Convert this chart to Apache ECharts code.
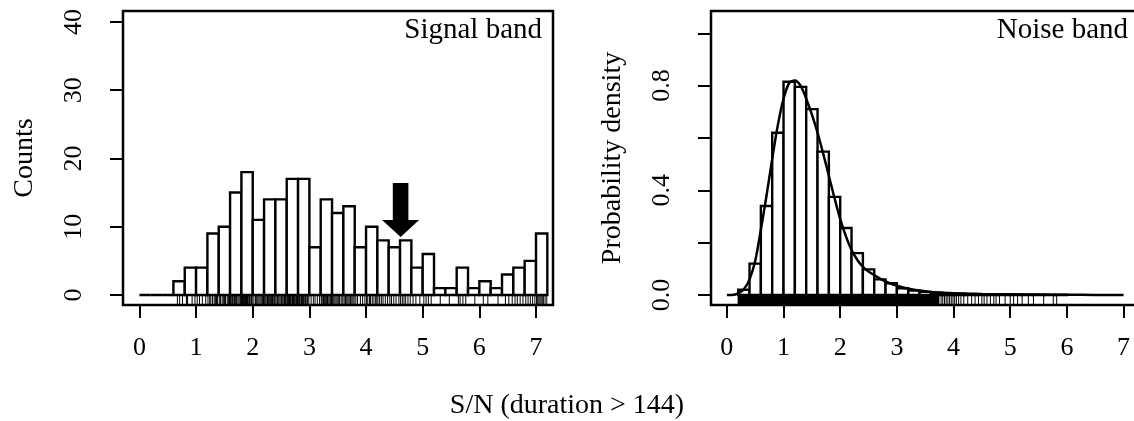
<!DOCTYPE html>
<html>
<head>
<meta charset="utf-8">
<script src="https://cdn.jsdelivr.net/npm/echarts@6/dist/echarts.min.js"></script>
<style>
  html, body { margin: 0; padding: 0; background: #fff; }
  #chart { width: 1134px; height: 421px; }
</style>
</head>
<body>
<div id="chart"></div>
<script>
// left panel: signal band histogram (counts), bins of 0.2 starting at 0
const signalBinStart = 0;
const signalBinWidth = 0.2;
const signalCounts = [0, 0, 0, 2, 4, 4, 9, 10, 15, 18, 11, 14, 14, 17, 17, 7, 14, 12,
  13, 7, 10, 8, 7, 8, 4, 6, 1, 1, 4, 1, 2, 1, 3, 4, 5, 9];
const signalRug = [0.67, 0.71, 0.76, 0.83, 0.85, 0.93, 0.98, 1.02, 1.06, 1.11, 1.17,
  1.21, 1.24, 1.26, 1.29, 1.32, 1.34, 1.36, 1.38, 1.41, 1.43, 1.46, 1.48, 1.5, 1.52, 1.55, 1.57, 1.59,
  1.61, 1.62, 1.64, 1.65, 1.67, 1.68, 1.7, 1.71, 1.72, 1.74, 1.76, 1.78, 1.79,
  1.8, 1.81, 1.82, 1.83, 1.84, 1.85, 1.86, 1.87, 1.88, 1.89, 1.9, 1.91, 1.92, 1.94, 1.95, 1.97, 1.98, 1.99,
  2.02, 2.05, 2.07, 2.09, 2.11, 2.13, 2.15, 2.17, 2.19,
  2.21, 2.23, 2.25, 2.26, 2.28, 2.3, 2.31, 2.33, 2.35, 2.36, 2.38, 2.39,
  2.41, 2.43, 2.44, 2.46, 2.48, 2.5, 2.51, 2.53, 2.55, 2.56, 2.58, 2.59,
  2.61, 2.62, 2.63, 2.65, 2.66, 2.67, 2.69, 2.7, 2.71, 2.72, 2.74, 2.75, 2.77, 2.78, 2.79,
  2.81, 2.82, 2.83, 2.85, 2.86, 2.88, 2.89, 2.9, 2.92, 2.93, 2.94, 2.96, 2.97, 2.99,
  3.03, 3.07, 3.1, 3.14, 3.18,
  3.21, 3.22, 3.24, 3.25, 3.27, 3.28, 3.3, 3.32, 3.33, 3.35, 3.37, 3.39,
  3.41, 3.43, 3.45, 3.47, 3.49, 3.51, 3.53, 3.56, 3.58,
  3.61, 3.63, 3.64, 3.66, 3.68, 3.7, 3.72, 3.73, 3.75, 3.77, 3.79,
  3.82, 3.85, 3.9, 3.94, 3.98, 4.01, 4.03, 4.06, 4.08, 4.11, 4.14, 4.17, 4.19,
  4.21, 4.24, 4.27, 4.3, 4.34, 4.38, 4.42, 4.45, 4.49, 4.53, 4.58,
  4.61, 4.64, 4.67, 4.7, 4.74, 4.78, 4.83, 4.88, 4.95, 5.02, 5.06, 5.1, 5.15,
  5.31, 5.47, 5.63, 5.66, 5.71, 5.76, 5.92, 6.07, 6.15, 6.33, 6.46, 6.52, 6.58,
  6.63, 6.67, 6.72, 6.77, 6.82, 6.86, 6.9, 6.94, 6.98,
  7.01, 7.03, 7.05, 7.07, 7.09, 7.11, 7.13, 7.16, 7.19];
// arrow: [x, tip y, head base y, top y]
const arrowAt = [4.61, 8.5, 11.0, 16.4];

// right panel: noise band histogram (density), bins of 0.2 starting at 0.2
const noiseBinStart = 0.2;
const noiseBinWidth = 0.2;
const noiseDensity = [0.02, 0.12, 0.34, 0.62, 0.815, 0.795, 0.71, 0.548, 0.375, 0.256,
  0.16, 0.098, 0.06, 0.045, 0.026, 0.017, 0.012, 0.009, 0.006, 0.005, 0.004, 0.003, 0.003,
  0.002, 0.002, 0.001, 0.001, 0.001, 0.001];
const curveX = [0, 0.1, 0.2, 0.3, 0.4, 0.5, 0.6, 0.7, 0.8, 0.9, 1.0, 1.1, 1.2, 1.3, 1.4, 1.5,
  1.6, 1.7, 1.8, 1.9, 2.0, 2.1, 2.2, 2.3, 2.4, 2.5, 2.6, 2.7, 2.8, 2.9, 3.0, 3.2, 3.4, 3.6,
  3.8, 4.0, 4.5, 5.0, 5.5, 6.0, 6.5, 7.0];
const curveY = [0, 0, 0.006, 0.022, 0.06, 0.13, 0.25, 0.38, 0.52, 0.65, 0.75, 0.81, 0.82,
  0.80, 0.75, 0.69, 0.62, 0.54, 0.455, 0.37, 0.29, 0.225, 0.172, 0.135, 0.108, 0.09, 0.076,
  0.063, 0.052, 0.043, 0.036, 0.024, 0.017, 0.012, 0.009, 0.007, 0.004, 0.003, 0.002, 0.001,
  0.0005, 0];
const noiseRugBand = [0.19, 3.75];
const noiseRug = [3.78, 3.81, 3.84, 3.87, 3.9, 3.93, 3.96, 3.99, 4.02, 4.05, 4.09, 4.13,
  4.18, 4.25, 4.32, 4.38, 4.44, 4.5, 4.54, 4.59, 4.65, 4.71, 4.75, 4.81, 4.91, 5.0, 5.06,
  5.13, 5.21, 5.32, 5.41, 5.59, 5.76, 5.82];

const xTicks = [0, 1, 2, 3, 4, 5, 6, 7];
const signalYTicks = [0, 10, 20, 30, 40];
const noiseYTicks = [0, 0.2, 0.4, 0.6, 0.8, 1.0];
const noiseYLabels = [0, 0.4, 0.8];

const FONT = 'Liberation Serif';
const leftYMin = -1.47, leftYMax = 41.6;
const rightYMin = -0.038, rightYMax = 1.085;

const myChart = echarts.init(document.getElementById('chart'));

function histItem(start, width) {
  return function (params, api) {
    const i = params.dataIndex;
    const x0 = start + i * width;
    const p0 = api.coord([x0, api.value(0)]);
    const p1 = api.coord([x0 + width, 0]);
    return {
      type: 'rect',
      shape: { x: p0[0], y: p0[1], width: p1[0] - p0[0], height: p1[1] - p0[1] },
      style: { fill: '#fff', stroke: '#000', lineWidth: 2.4 }
    };
  };
}

function rugItem(yMin) {
  return function (params, api) {
    const p = api.coord([api.value(0), yMin]);
    return {
      type: 'line',
      shape: { x1: p[0], y1: p[1], x2: p[0], y2: p[1] - 10 },
      style: { stroke: '#000', lineWidth: 1 }
    };
  };
}

function xAxisOf(idx) {
  return {
    gridIndex: idx, type: 'value', min: idx === 0 ? -0.29 : -0.28, max: idx === 0 ? 7.3 : 7.29,
    axisLine: { show: false, onZero: false },
    axisTick: { show: true, customValues: xTicks, length: 13, lineStyle: { color: '#000', width: 2 } },
    axisLabel: { customValues: xTicks, margin: 30, fontFamily: FONT, fontSize: 26, color: '#000' },
    splitLine: { show: false }
  };
}

const gridBase = { top: 11, height: 294, show: true, borderColor: '#000', borderWidth: 2.5,
  backgroundColor: 'transparent', outerBoundsMode: 'none' };

const option = {
  animation: false,
  backgroundColor: '#fff',
  grid: [
    Object.assign({ left: 123, width: 430 }, gridBase),
    Object.assign({ left: 711, width: 429 }, gridBase)
  ],
  xAxis: [xAxisOf(0), xAxisOf(1)],
  yAxis: [
    {
      gridIndex: 0, type: 'value', min: leftYMin, max: leftYMax,
      name: 'Counts', nameLocation: 'middle', nameRotate: 90, nameGap: 84,
      nameTextStyle: { fontFamily: FONT, fontSize: 28, color: '#000' },
      axisLine: { show: false, onZero: false },
      axisTick: { show: true, customValues: signalYTicks, length: 13, lineStyle: { color: '#000', width: 2 } },
      axisLabel: { customValues: signalYTicks, rotate: 90, margin: 36, fontFamily: FONT, fontSize: 26, color: '#000' },
      splitLine: { show: false }
    },
    {
      gridIndex: 1, type: 'value', min: rightYMin, max: rightYMax,
      name: 'Probability density', nameLocation: 'middle', nameRotate: 90, nameGap: 84,
      nameTextStyle: { fontFamily: FONT, fontSize: 28, color: '#000' },
      axisLine: { show: false, onZero: false },
      axisTick: { show: true, customValues: noiseYTicks, length: 13, lineStyle: { color: '#000', width: 2 } },
      axisLabel: { customValues: noiseYLabels, rotate: 90, margin: 36, fontFamily: FONT, fontSize: 26, color: '#000',
        formatter: v => v.toFixed(1) },
      splitLine: { show: false }
    }
  ],
  graphic: [
    { type: 'text', right: 592, top: 16, style: { text: 'Signal band', font: '29px "Liberation Serif"', fill: '#000' } },
    { type: 'text', right: 6, top: 16, style: { text: 'Noise band', font: '29px "Liberation Serif"', fill: '#000' } },
    { type: 'text', left: 'center', top: 392, style: { text: 'S/N (duration > 144)', font: '28px "Liberation Serif"', fill: '#000' } }
  ],
  series: [
    {
      type: 'custom', xAxisIndex: 0, yAxisIndex: 0, clip: true,
      renderItem: histItem(signalBinStart, signalBinWidth),
      data: signalCounts.map(v => [v])
    },
    {
      type: 'custom', xAxisIndex: 0, yAxisIndex: 0, clip: true,
      renderItem: rugItem(leftYMin),
      data: signalRug.map(v => [v])
    },
    {
      type: 'custom', xAxisIndex: 0, yAxisIndex: 0, clip: true,
      renderItem: function (params, api) {
        const tip = api.coord([api.value(0), api.value(1)]);
        const base = api.coord([api.value(0), api.value(2)]);
        const top = api.coord([api.value(0), api.value(3)]);
        const x = tip[0];
        return {
          type: 'polygon',
          shape: { points: [
            [x - 7.8, top[1]], [x + 7.8, top[1]], [x + 7.8, base[1]], [x + 18.5, base[1]],
            [x, tip[1]], [x - 18.5, base[1]], [x - 7.8, base[1]]
          ] },
          style: { fill: '#000' }
        };
      },
      data: [arrowAt]
    },
    {
      type: 'custom', xAxisIndex: 1, yAxisIndex: 1, clip: true,
      renderItem: histItem(noiseBinStart, noiseBinWidth),
      data: noiseDensity.map(v => [v])
    },
    {
      type: 'custom', xAxisIndex: 1, yAxisIndex: 1, clip: true,
      renderItem: function (params, api) {
        const a = api.coord([api.value(0), rightYMin]);
        const b = api.coord([api.value(1), rightYMin]);
        return { type: 'rect', shape: { x: a[0], y: a[1] - 10, width: b[0] - a[0], height: 10 }, style: { fill: '#000' } };
      },
      data: [noiseRugBand]
    },
    {
      type: 'custom', xAxisIndex: 1, yAxisIndex: 1, clip: true,
      renderItem: rugItem(rightYMin),
      data: noiseRug.map(v => [v])
    },
    {
      type: 'line', xAxisIndex: 1, yAxisIndex: 1, smooth: 0.3, showSymbol: false,
      lineStyle: { color: '#000', width: 2.5 },
      data: curveX.map((x, i) => [x, curveY[i]])
    }
  ]
};

myChart.setOption(option);
</script>
</body>
</html>
